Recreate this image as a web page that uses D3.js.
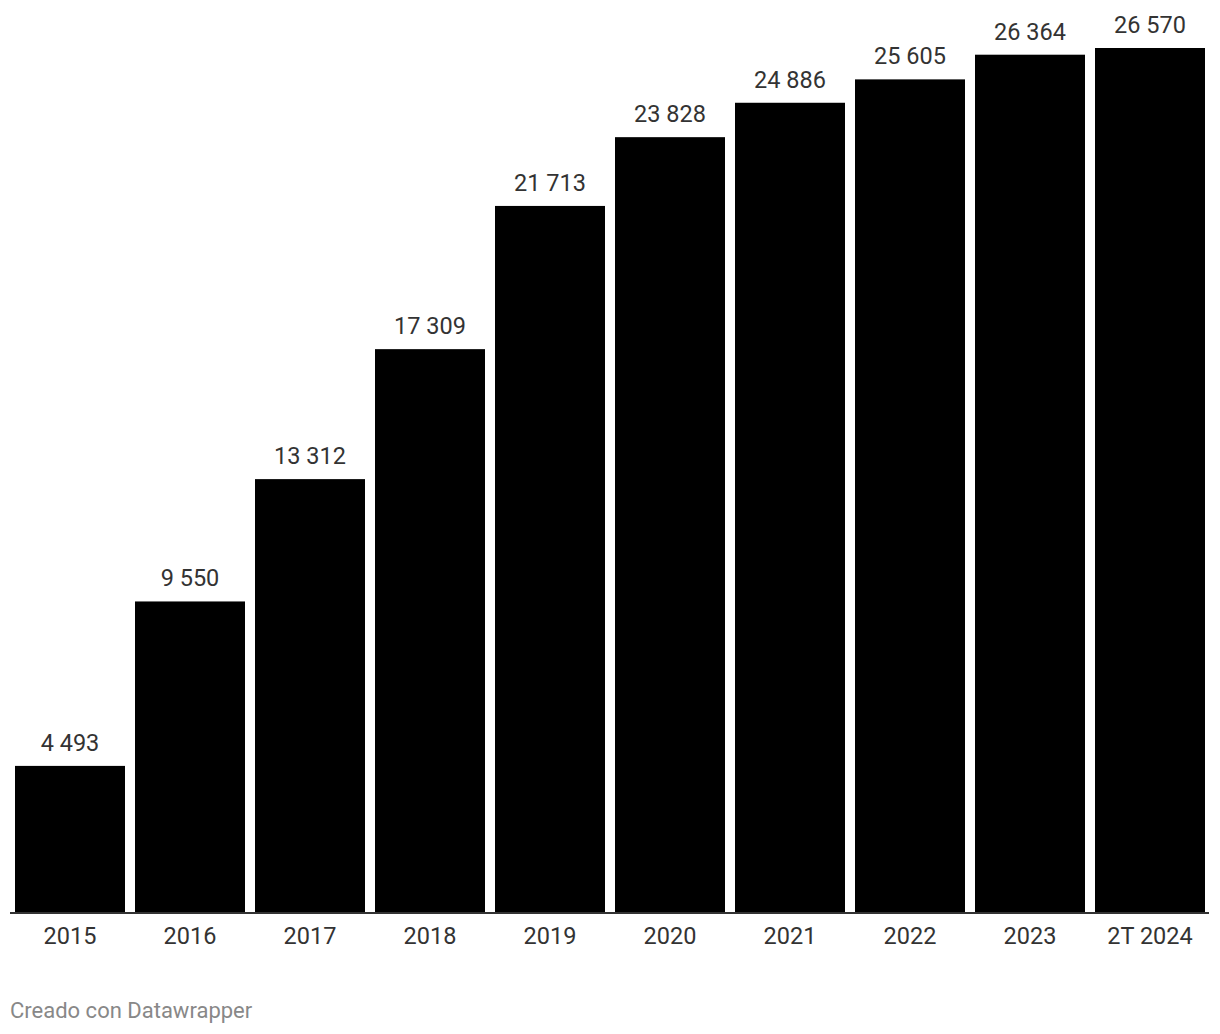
<!DOCTYPE html>
<html><head><meta charset="utf-8">
<script src="https://cdn.jsdelivr.net/npm/d3@7"></script>
<style>body{margin:0;background:#fff;font-family:Roboto,sans-serif;}</style>
</head><body><svg id="c" width="1220" height="1034"></svg>
<script>
const categories = ["2015","2016","2017","2018","2019","2020","2021","2022","2023","2T 2024"];
const values = [4493, 9550, 13312, 17309, 21713, 23828, 24886, 25605, 26364, 26570];
const valueLabels = ["4 493","9 550","13 312","17 309","21 713","23 828","24 886","25 605","26 364","26 570"];

const svg = d3.select("#c");
const x = d3.scaleBand().domain(categories).range([10, 1210]).paddingInner(10/120).paddingOuter(5/120);
const y = d3.scaleLinear().domain([0, 26570]).range([912, 48]);

svg.selectAll("rect.bar").data(values).join("rect")
  .attr("x", (d,i)=>x(categories[i])).attr("width", x.bandwidth())
  .attr("y", d=>y(d)).attr("height", d=>y(0)-y(d)).attr("fill","#000");

svg.selectAll("text.val").data(values).join("text")
  .attr("x",(d,i)=>x(categories[i])+x.bandwidth()/2).attr("y", d=>y(d)-15)
  .attr("text-anchor","middle").attr("font-size",23.5).attr("fill","#333")
  .text((d,i)=>valueLabels[i]);

const xAxis = d3.axisBottom(x).tickSize(0).tickPadding(15);
const g = svg.append("g").attr("transform",`translate(0,${y(0)})`).call(xAxis);
g.select(".domain").attr("stroke","#333").attr("stroke-width",2).attr("d","M10,1H1209");
g.selectAll("text").attr("font-size",23.5).attr("font-family","Roboto").attr("fill","#333").attr("dy","0.71em");

svg.append("text").attr("x",10).attr("y",1018).attr("font-size",22).attr("fill","#888").text("Creado con Datawrapper");
</script></body></html>
